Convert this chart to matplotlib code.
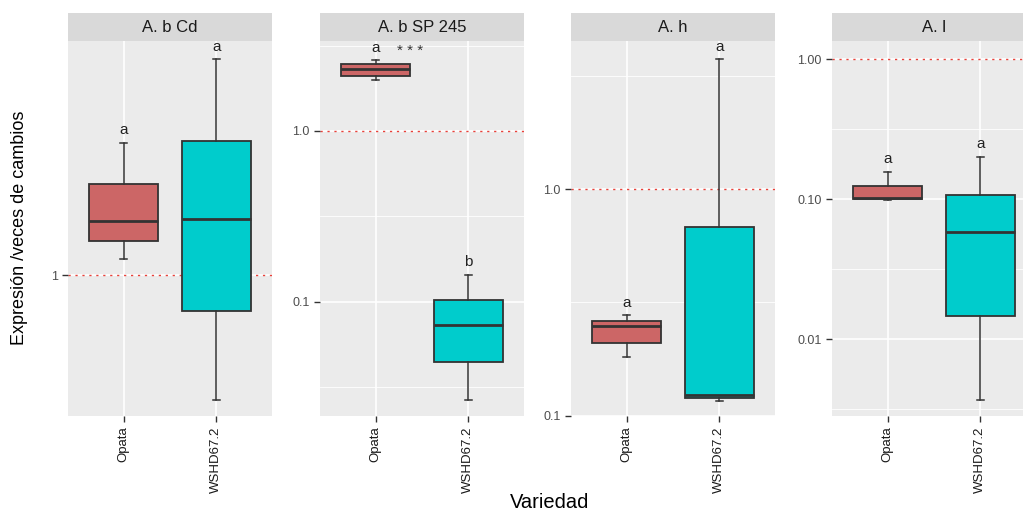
import matplotlib
matplotlib.use("Agg")
import matplotlib.pyplot as plt
import numpy as np

plt.rcParams["font.family"] = ["Liberation Sans", "DejaVu Sans"]

# data (fold change, log scale)
PANELS     = ["A. b Cd", "A. b SP 245", "A. h", "A. l"]
VARIEDADES = ["Opata", "WSHD67.2"]

# per panel: [Opata, WSHD67.2]
whislo = [[1.053, 0.67], [1.99, 0.0267], [0.182, 0.1164], [0.098, 0.00367]]
q1     = [[1.115, 0.891], [2.10, 0.0446], [0.210, 0.119], [0.0995, 0.0146]]
median = [[1.19, 1.197], [2.30, 0.0733], [0.248, 0.1226], [0.101, 0.058]]
q3     = [[1.34, 1.54], [2.46, 0.1027], [0.261, 0.679], [0.124, 0.107]]
whishi = [[1.53, 2.0], [2.60, 0.144], [0.277, 3.76], [0.156, 0.20]]

letters = [["a", "a"], ["a", "b"], ["a", "a"], ["a", "a"]]

y_limits = [(0.636, 2.12), (0.0215, 3.36), (0.0995, 4.52), (0.00282, 1.345)]
y_breaks = [[1], [0.1, 1.0], [0.1, 1.0], [0.01, 0.1, 1.0]]
y_break_labels = [["1"], ["0.1", "1.0"], ["0.1", "1.0"], ["0.01", "0.10", "1.00"]]

COLORS = ["#CC6666", "#00CCCC"]
EDGE   = "#333333"

W, H = 1023, 512
fig = plt.figure(figsize=(W / 100, H / 100), dpi=100)

panel_left = [68, 320, 571, 832]
panel_w    = 204
panel_top, panel_bottom = 41, 416
strip_top = 13


def px_box(x0, y0, w, h):
    return [x0 / W, 1 - (y0 + h) / H, w / W, h / H]


minor_breaks = [10 ** (k + 0.5) for k in range(-4, 2)]

for i, name in enumerate(PANELS):
    ax = fig.add_axes(px_box(panel_left[i], panel_top, panel_w, panel_bottom - panel_top))
    ax.set_facecolor("#EBEBEB")
    for s in ax.spines.values():
        s.set_visible(False)
    ax.set_yscale("log")
    ax.set_xlim(0.4, 2.6)
    ax.set_ylim(*y_limits[i])

    for m in minor_breaks:
        ax.axhline(m, color="white", lw=0.6, zorder=0.5)
    for b in y_breaks[i]:
        ax.axhline(b, color="white", lw=1.2, zorder=0.6)
    for x in (1, 2):
        ax.axvline(x, color="white", lw=1.2, zorder=0.6)

    ax.axhline(1, color="#E8413A", lw=1.0, linestyle=(0, (1.6, 3.4)), zorder=1)

    stats = []
    for j in range(2):
        stats.append(dict(med=median[i][j], q1=q1[i][j], q3=q3[i][j],
                          whislo=whislo[i][j], whishi=whishi[i][j], fliers=[]))
    bp = ax.bxp(stats, positions=[1, 2], widths=0.75, patch_artist=True,
                capwidths=0.08, manage_ticks=False,
                boxprops=dict(edgecolor=EDGE, linewidth=1.3),
                medianprops=dict(color=EDGE, linewidth=2.0),
                whiskerprops=dict(color=EDGE, linewidth=1.1),
                capprops=dict(color=EDGE, linewidth=1.1))
    for patch, c in zip(bp["boxes"], COLORS):
        patch.set_facecolor(c)
        patch.set_zorder(2)

    for j in range(2):
        ax.annotate(letters[i][j], (j + 1, whishi[i][j]), xytext=(0, 9),
                    textcoords="offset points", ha="center", va="center",
                    fontsize=11, color="#222222")
    if i == 1:
        ax.text(1.37, 2.95, "* * *", ha="center", va="center", fontsize=11,
                color="#333333", clip_on=False)

    ax.set_yticks(y_breaks[i])
    ax.set_yticklabels(y_break_labels[i])
    ax.yaxis.set_minor_locator(matplotlib.ticker.NullLocator())
    ax.set_xticks([1, 2])
    ax.set_xticklabels(VARIEDADES, rotation=90, va="top", ha="center")
    ax.tick_params(axis="y", colors="#333333", labelcolor="#4D4D4D", labelsize=9, length=4, width=1)
    ax.tick_params(axis="x", colors="#333333", labelcolor="#1A1A1A", labelsize=9.5, length=4, width=1)

    sax = fig.add_axes(px_box(panel_left[i], strip_top, panel_w, panel_top - strip_top))
    sax.set_facecolor("#D9D9D9")
    sax.set_xticks([])
    sax.set_yticks([])
    for s in sax.spines.values():
        s.set_visible(False)
    sax.text(0.5, 0.5, name, ha="center", va="center", fontsize=12,
             color="#1A1A1A", transform=sax.transAxes)

fig.text(20 / W, 1 - 228 / H, "Expresión /veces de cambios", rotation=90,
         ha="center", va="center", fontsize=13)
fig.text(550 / W, 1 - 503 / H, "Variedad", ha="center", va="center", fontsize=14.5)

fig.savefig("out.png", dpi=100)
